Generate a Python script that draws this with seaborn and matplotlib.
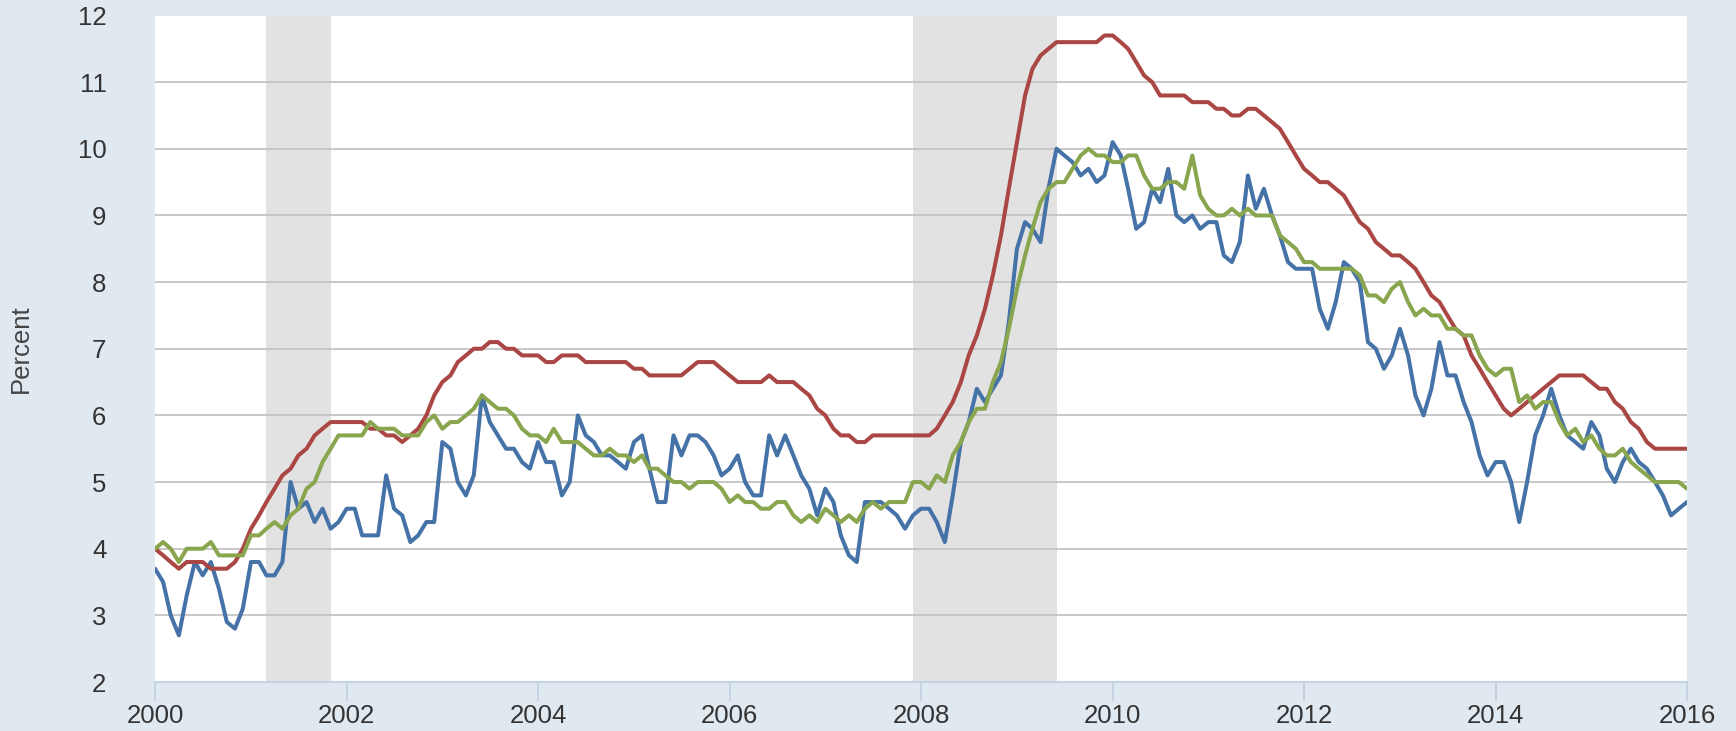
import matplotlib
matplotlib.use("Agg")
import matplotlib.pyplot as plt
import matplotlib.dates as mdates
import seaborn as sns
import pandas as pd
import numpy as np

# Monthly dates Jan 2000 .. Jan 2016
dates = pd.date_range("2000-01-01", periods=193, freq="MS")

blue_values = [
    3.7, 3.5, 3.0, 2.7, 3.3, 3.8, 3.6, 3.8, 3.4, 2.9, 2.8, 3.1,
    3.8, 3.8, 3.6, 3.6, 3.8, 5.0, 4.6, 4.7, 4.4, 4.6, 4.3, 4.4,
    4.6, 4.6, 4.2, 4.2, 4.2, 5.1, 4.6, 4.5, 4.1, 4.2, 4.4, 4.4,
    5.6, 5.5, 5.0, 4.8, 5.1, 6.3, 5.9, 5.7, 5.5, 5.5, 5.3, 5.2,
    5.6, 5.3, 5.3, 4.8, 5.0, 6.0, 5.7, 5.6, 5.4, 5.4, 5.3, 5.2,
    5.6, 5.7, 5.2, 4.7, 4.7, 5.7, 5.4, 5.7, 5.7, 5.6, 5.4, 5.1,
    5.2, 5.4, 5.0, 4.8, 4.8, 5.7, 5.4, 5.7, 5.4, 5.1, 4.9, 4.5,
    4.9, 4.7, 4.2, 3.9, 3.8, 4.7, 4.7, 4.7, 4.6, 4.5, 4.3, 4.5,
    4.6, 4.6, 4.4, 4.1, 4.8, 5.6, 5.9, 6.4, 6.2, 6.4, 6.6, 7.4,
    8.5, 8.9, 8.8, 8.6, 9.4, 10.0, 9.9, 9.8, 9.6, 9.7, 9.5, 9.6,
    10.1, 9.9, 9.4, 8.8, 8.9, 9.4, 9.2, 9.7, 9.0, 8.9, 9.0, 8.8,
    8.9, 8.9, 8.4, 8.3, 8.6, 9.6, 9.1, 9.4, 9.0, 8.7, 8.3, 8.2,
    8.2, 8.2, 7.6, 7.3, 7.7, 8.3, 8.2, 8.0, 7.1, 7.0, 6.7, 6.9,
    7.3, 6.9, 6.3, 6.0, 6.4, 7.1, 6.6, 6.6, 6.2, 5.9, 5.4, 5.1,
    5.3, 5.3, 5.0, 4.4, 5.0, 5.7, 6.0, 6.4, 6.0, 5.7, 5.6, 5.5,
    5.9, 5.7, 5.2, 5.0, 5.3, 5.5, 5.3, 5.2, 5.0, 4.8, 4.5, 4.6,
    4.7,
]

red_values = [
    4.0, 3.9, 3.8, 3.7, 3.8, 3.8, 3.8, 3.7, 3.7, 3.7, 3.8, 4.0,
    4.3, 4.5, 4.7, 4.9, 5.1, 5.2, 5.4, 5.5, 5.7, 5.8, 5.9, 5.9,
    5.9, 5.9, 5.9, 5.8, 5.8, 5.7, 5.7, 5.6, 5.7, 5.8, 6.0, 6.3,
    6.5, 6.6, 6.8, 6.9, 7.0, 7.0, 7.1, 7.1, 7.0, 7.0, 6.9, 6.9,
    6.9, 6.8, 6.8, 6.9, 6.9, 6.9, 6.8, 6.8, 6.8, 6.8, 6.8, 6.8,
    6.7, 6.7, 6.6, 6.6, 6.6, 6.6, 6.6, 6.7, 6.8, 6.8, 6.8, 6.7,
    6.6, 6.5, 6.5, 6.5, 6.5, 6.6, 6.5, 6.5, 6.5, 6.4, 6.3, 6.1,
    6.0, 5.8, 5.7, 5.7, 5.6, 5.6, 5.7, 5.7, 5.7, 5.7, 5.7, 5.7,
    5.7, 5.7, 5.8, 6.0, 6.2, 6.5, 6.9, 7.2, 7.6, 8.1, 8.7, 9.4,
    10.1, 10.8, 11.2, 11.4, 11.5, 11.6, 11.6, 11.6, 11.6, 11.6, 11.6, 11.7,
    11.7, 11.6, 11.5, 11.3, 11.1, 11.0, 10.8, 10.8, 10.8, 10.8, 10.7, 10.7,
    10.7, 10.6, 10.6, 10.5, 10.5, 10.6, 10.6, 10.5, 10.4, 10.3, 10.1, 9.9,
    9.7, 9.6, 9.5, 9.5, 9.4, 9.3, 9.1, 8.9, 8.8, 8.6, 8.5, 8.4,
    8.4, 8.3, 8.2, 8.0, 7.8, 7.7, 7.5, 7.3, 7.2, 6.9, 6.7, 6.5,
    6.3, 6.1, 6.0, 6.1, 6.2, 6.3, 6.4, 6.5, 6.6, 6.6, 6.6, 6.6,
    6.5, 6.4, 6.4, 6.2, 6.1, 5.9, 5.8, 5.6, 5.5, 5.5, 5.5, 5.5,
    5.5,
]

green_values = [
    4.0, 4.1, 4.0, 3.8, 4.0, 4.0, 4.0, 4.1, 3.9, 3.9, 3.9, 3.9,
    4.2, 4.2, 4.3, 4.4, 4.3, 4.5, 4.6, 4.9, 5.0, 5.3, 5.5, 5.7,
    5.7, 5.7, 5.7, 5.9, 5.8, 5.8, 5.8, 5.7, 5.7, 5.7, 5.9, 6.0,
    5.8, 5.9, 5.9, 6.0, 6.1, 6.3, 6.2, 6.1, 6.1, 6.0, 5.8, 5.7,
    5.7, 5.6, 5.8, 5.6, 5.6, 5.6, 5.5, 5.4, 5.4, 5.5, 5.4, 5.4,
    5.3, 5.4, 5.2, 5.2, 5.1, 5.0, 5.0, 4.9, 5.0, 5.0, 5.0, 4.9,
    4.7, 4.8, 4.7, 4.7, 4.6, 4.6, 4.7, 4.7, 4.5, 4.4, 4.5, 4.4,
    4.6, 4.5, 4.4, 4.5, 4.4, 4.6, 4.7, 4.6, 4.7, 4.7, 4.7, 5.0,
    5.0, 4.9, 5.1, 5.0, 5.4, 5.6, 5.9, 6.1, 6.1, 6.5, 6.8, 7.3,
    7.9, 8.4, 8.8, 9.2, 9.4, 9.5, 9.5, 9.7, 9.9, 10.0, 9.9, 9.9,
    9.8, 9.8, 9.9, 9.9, 9.6, 9.4, 9.4, 9.5, 9.5, 9.4, 9.9, 9.3,
    9.1, 9.0, 9.0, 9.1, 9.0, 9.1, 9.0, 9.0, 9.0, 8.7, 8.6, 8.5,
    8.3, 8.3, 8.2, 8.2, 8.2, 8.2, 8.2, 8.1, 7.8, 7.8, 7.7, 7.9,
    8.0, 7.7, 7.5, 7.6, 7.5, 7.5, 7.3, 7.3, 7.2, 7.2, 6.9, 6.7,
    6.6, 6.7, 6.7, 6.2, 6.3, 6.1, 6.2, 6.2, 5.9, 5.7, 5.8, 5.6,
    5.7, 5.5, 5.4, 5.4, 5.5, 5.3, 5.2, 5.1, 5.0, 5.0, 5.0, 5.0,
    4.9,
]

recessions = [("2001-03-01", "2001-11-01"), ("2007-12-01", "2009-06-01")]
y_ticks = [2, 3, 4, 5, 6, 7, 8, 9, 10, 11, 12]
x_tick_years = [2000, 2002, 2004, 2006, 2008, 2010, 2012, 2014, 2016]
y_label = "Percent"

assert len(blue_values) == len(red_values) == len(green_values) == len(dates)

sns.set_style("white")
plt.rcParams["font.family"] = ["Liberation Sans", "DejaVu Sans"]

W, H = 1736, 731
fig = plt.figure(figsize=(W / 100, H / 100), dpi=100, facecolor="#e1e9f0")
left, right, top, bottom = 155, 1687, 15.5, 682
ax = fig.add_axes([left / W, 1 - bottom / H, (right - left) / W, (bottom - top) / H])
ax.set_facecolor("white")

for s, e in recessions:
    ax.axvspan(pd.Timestamp(s), pd.Timestamp(e), color="#e2e2e2", lw=0, zorder=0)

df = pd.DataFrame({"date": dates, "blue": blue_values, "red": red_values, "green": green_values})
sns.lineplot(data=df, x="date", y="red", color="#aa4643", lw=2.9, ax=ax, zorder=3)
sns.lineplot(data=df, x="date", y="green", color="#89a54e", lw=2.9, ax=ax, zorder=4)
sns.lineplot(data=df, x="date", y="blue", color="#4572a7", lw=2.9, ax=ax, zorder=2)

ax.set_xlim(pd.Timestamp("2000-01-01"), pd.Timestamp("2016-01-01"))
ax.set_ylim(2, 12)
ax.set_yticks(y_ticks)
ax.set_xticks([pd.Timestamp(f"{y}-01-01") for y in x_tick_years])
ax.xaxis.set_major_formatter(mdates.DateFormatter("%Y"))

ax.yaxis.grid(True, color="#c4c4c4", lw=1.3, zorder=1)
ax.xaxis.grid(False)
ax.set_axisbelow(True)
for sp in ["left", "right", "top"]:
    ax.spines[sp].set_visible(False)
ax.spines["bottom"].set_color("#c5d3e2")
ax.spines["bottom"].set_linewidth(1.5)

ax.tick_params(axis="x", length=14, width=1.5, color="#c5d3e2", pad=2,
               labelsize=18.5, labelcolor="#333333", direction="out", bottom=True)
ax.tick_params(axis="y", length=0, pad=35, labelsize=18.5, labelcolor="#333333")

ax.set_xlabel("")
ax.set_ylabel(y_label, fontsize=18.5, color="#444444")
ax.yaxis.set_label_coords((21 - left) / (right - left), 0.5)
ax.yaxis.label.set_va("center")

fig.savefig("out.png", dpi=100, facecolor=fig.get_facecolor())
